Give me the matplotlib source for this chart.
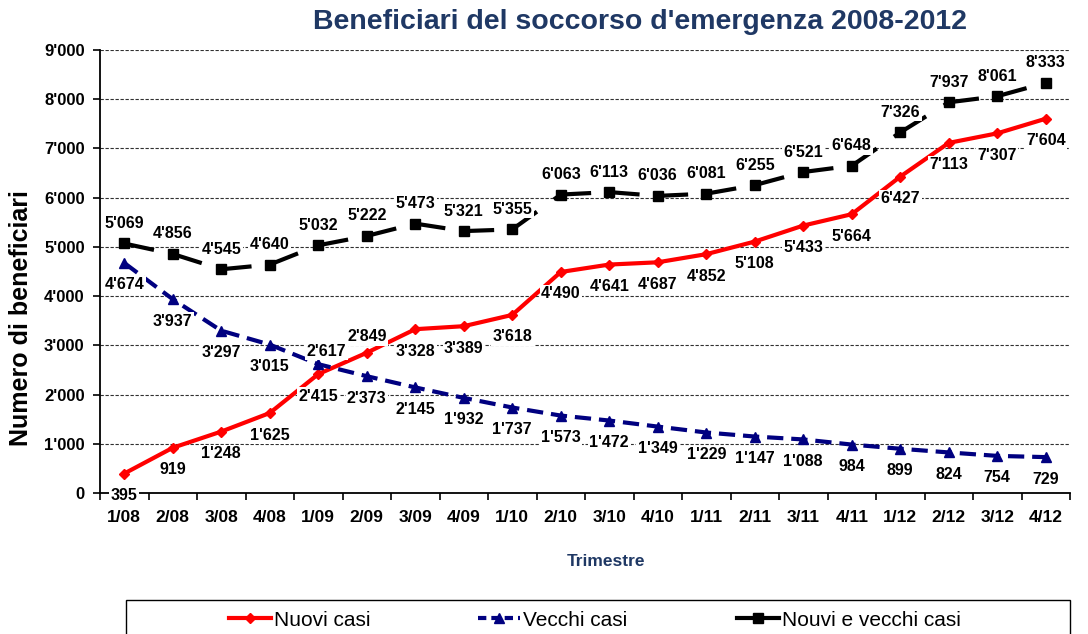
import matplotlib
matplotlib.use("Agg")
import matplotlib.pyplot as plt
from matplotlib.patches import Rectangle
from matplotlib.lines import Line2D

plt.rcParams['font.family'] = ['Liberation Sans', 'DejaVu Sans']

trimestri = ["1/08", "2/08", "3/08", "4/08", "1/09", "2/09", "3/09", "4/09", "1/10", "2/10",
             "3/10", "4/10", "1/11", "2/11", "3/11", "4/11", "1/12", "2/12", "3/12", "4/12"]
nuovi = [395, 919, 1248, 1625, 2415, 2849, 3328, 3389, 3618, 4490,
         4641, 4687, 4852, 5108, 5433, 5664, 6427, 7113, 7307, 7604]
vecchi = [4674, 3937, 3297, 3015, 2617, 2373, 2145, 1932, 1737, 1573,
          1472, 1349, 1229, 1147, 1088, 984, 899, 824, 754, 729]
totale = [5069, 4856, 4545, 4640, 5032, 5222, 5473, 5321, 5355, 6063,
          6113, 6036, 6081, 6255, 6521, 6648, 7326, 7937, 8061, 8333]
yticks = list(range(0, 9001, 1000))
legenda = ["Nuovi casi", "Vecchi casi", "Nouvi e vecchi casi"]

TITLE_COL = "#1F3864"


def fmt(v):
    return f"{v:,}".replace(",", "'")


fig = plt.figure(figsize=(10.88, 6.34), dpi=100)
ax = fig.add_axes([100 / 1088, 1 - 493 / 634, 970 / 1088, 443 / 634])

x = list(range(len(trimestri)))

ax.plot(x, nuovi, color="#FF0000", lw=3, marker="D", ms=5, zorder=3)
ax.plot(x, vecchi, color="#000080", lw=3, ls=(0, (3.9, 1.9)), marker="^", ms=7.5, zorder=3)
# black series: dash pattern restarts at every point, like the original
for i in range(len(x) - 1):
    ax.plot(x[i:i + 2], totale[i:i + 2], color="black", lw=3,
            ls=(0, (7.3, 5)), solid_capstyle="butt", zorder=3)
ax.plot(x, totale, color="black", ls="none", marker="s", ms=7.5, zorder=3)

# data labels with white background
lab = dict(ha="center", va="center", fontsize=11.5, fontweight="bold",
           textcoords="offset pixels", zorder=5,
           bbox=dict(facecolor="white", edgecolor="none", pad=1))
for i, v in enumerate(nuovi):
    off = (0, -22)
    if v == 2849:
        off = (0, 16)
    ax.annotate(fmt(v), (i, v), xytext=off, **lab)
for i, v in enumerate(vecchi):
    off = (0, -22)
    if v == 2617:
        off = (8, 13)
    ax.annotate(fmt(v), (i, v), xytext=off, **lab)
for i, v in enumerate(totale):
    ax.annotate(fmt(v), (i, v), xytext=(0, 20), **lab)

ax.set_xlim(-0.5, len(trimestri) - 0.5)
ax.set_ylim(0, 9000)
ax.set_yticks(yticks)
ax.set_yticklabels([fmt(t) for t in yticks], fontsize=12, fontweight="bold")
ax.set_xticks(x)
ax.set_xticklabels(trimestri, fontsize=12.5, fontweight="bold")
ax.set_xticks([i - 0.5 for i in range(len(trimestri) + 1)], minor=True)
ax.tick_params(axis="x", which="major", length=0, pad=12)
ax.tick_params(axis="x", which="minor", length=5, width=1.2, direction="out")
ax.tick_params(axis="y", length=5, width=1.2, direction="out", pad=6)

ax.grid(axis="y", color="#303030", lw=0.8, ls=(0, (3, 1.5)), zorder=1)
ax.set_axisbelow(True)
for s in ["top", "right"]:
    ax.spines[s].set_visible(False)
ax.spines["left"].set_linewidth(1.3)
ax.spines["bottom"].set_linewidth(1.3)

fig.text(21 / 1088, 1 - 318 / 634, "Numero di beneficiari", rotation=90,
         ha="center", va="center", fontsize=18, fontweight="bold")
fig.text(606 / 1088, 1 - 562 / 634, "Trimestre", ha="center", va="center",
         fontsize=12.5, fontweight="bold", color=TITLE_COL)
fig.text(640 / 1088, 1 - 22 / 634, "Beneficiari del soccorso d'emergenza 2008-2012",
         ha="center", va="center", fontsize=20.5, fontweight="bold", color=TITLE_COL)

# legend box (runs past the bottom edge)
fig.patches.append(Rectangle((126 / 1088, -0.05), 944 / 1088, 1 - 600 / 634 + 0.05,
                             transform=fig.transFigure, facecolor="white",
                             edgecolor="black", lw=1))
handles = [
    Line2D([], [], color="#FF0000", lw=3, marker="D", ms=5),
    Line2D([], [], color="#000080", lw=3, ls=(0, (2, 1.2)), marker="^", ms=7.5),
    Line2D([], [], color="black", lw=3, marker="s", ms=7.5),
]
for h, t, xs in zip(handles, legenda, [229, 478, 737]):
    fig.legend([h], [t], loc="center left", bbox_to_anchor=(xs / 1088, 1 - 620 / 634),
               frameon=False, borderpad=0, borderaxespad=0, handlelength=2.0,
               handletextpad=0.15, prop=dict(size=15))

fig.savefig("out.png", dpi=100)
